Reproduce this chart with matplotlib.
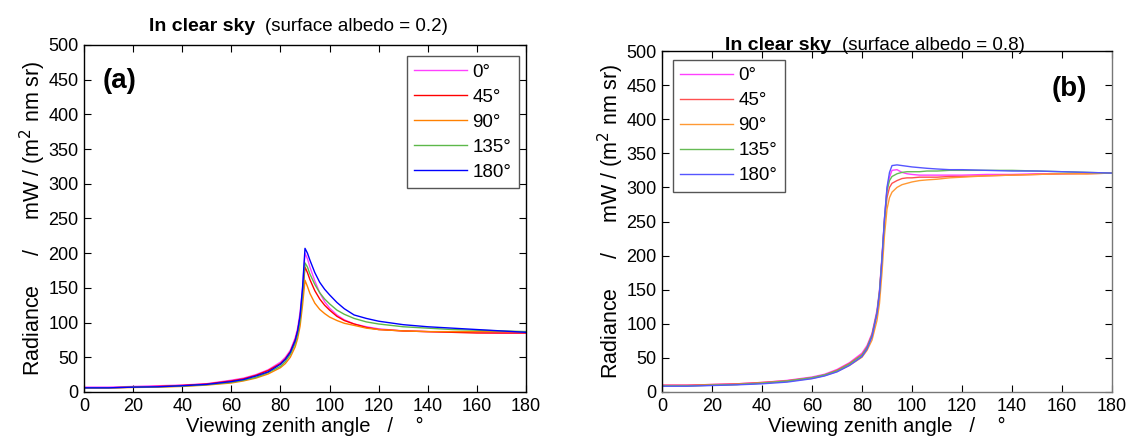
import numpy as np
import matplotlib
matplotlib.use('Agg')
import matplotlib.pyplot as plt

plt.rcParams['font.family'] = ['Liberation Sans', 'DejaVu Sans']

# viewing zenith angle (deg)
ang = [0, 10, 20, 30, 40, 50, 60, 65, 70, 75, 80, 82, 84, 86, 87, 88, 89, 90, 91, 92,
       94, 96, 98, 100, 103, 106, 110, 115, 120, 130, 140, 150, 160, 170, 180]

# (a) surface albedo = 0.2
a_0 = [7, 7, 8, 9, 10, 12, 17, 20, 25, 32, 43, 50, 60, 78, 92, 115, 150, 200, 192, 180,
       160, 143, 130, 121, 111, 104, 98, 94, 91, 88, 87, 86, 86, 85, 85]
a_45 = [6, 6, 7, 8, 9.5, 11.5, 16, 19, 24, 31, 41, 48, 58, 75, 88, 108, 140, 180, 172, 162,
        146, 134, 125, 118, 109, 103, 98, 93, 90, 88, 87, 86, 85, 85, 85]
a_90 = [6, 6, 6.5, 7, 8, 10, 13, 16, 20, 26, 35, 41, 50, 65, 77, 95, 125, 161, 152, 142,
        128, 119, 113, 108, 103, 99, 96, 92, 90, 88, 87, 87, 87, 87, 87]
a_135 = [6, 6, 7, 7.5, 8.5, 10.5, 14, 17, 21, 28, 37, 44, 54, 70, 83, 103, 140, 186, 180, 170,
         155, 143, 134, 127, 118, 112, 106, 101, 98, 94, 92, 90, 89, 88, 87]
a_180 = [6, 6, 7, 7.5, 9, 11, 15, 18, 23, 29, 40, 47, 57, 74, 88, 110, 150, 207, 200, 190,
         172, 158, 148, 140, 129, 120, 111, 106, 102, 97, 94, 92, 90, 88, 86]

# (b) surface albedo = 0.8
b_0 = [10, 10, 11, 12, 14, 17, 22, 26, 33, 43, 57, 68, 86, 120, 150, 200, 255, 298, 315, 325,
       326, 322, 320, 319, 318, 318, 318, 318, 318, 319, 319, 320, 320, 321, 321]
b_45 = [10, 10, 11, 12, 14, 16.5, 21, 25, 32, 42, 55, 66, 84, 116, 146, 195, 250, 285, 300, 306,
        310, 313, 314, 314, 315, 315, 315, 316, 316, 317, 318, 319, 320, 320, 321]
b_90 = [9, 9, 10, 11, 13, 15.5, 20, 24, 30, 39, 51, 61, 76, 105, 130, 175, 230, 268, 285, 293,
        300, 304, 306, 308, 310, 311, 312, 314, 315, 317, 318, 319, 320, 320, 321]
b_135 = [9, 9, 10, 11, 13, 16, 21, 25, 31, 41, 54, 65, 83, 117, 147, 197, 253, 295, 310, 316,
         320, 322, 323, 323, 323, 324, 324, 325, 325, 325, 325, 324, 323, 322, 321]
b_180 = [8.5, 8.5, 9.5, 10.5, 12, 14.5, 19.5, 23.5, 29.5, 39, 52, 63, 81, 115, 145, 195, 255, 300, 322, 332,
         333, 332, 331, 330, 329, 328, 327, 326, 326, 325, 324, 324, 323, 322, 321]

labels = ['0°', '45°', '90°', '135°', '180°']
colors_a = ['#ff40ff', '#ff0000', '#ff8000', '#5cb84a', '#0000ff']
colors_b = ['#ff40ff', '#ff5050', '#ff9933', '#66bb55', '#5555ff']

fig = plt.figure(figsize=(11.30, 4.43), dpi=100)
W, H = 1130, 443
ax1 = fig.add_axes([84 / W, 1 - 392 / H, (526 - 84) / W, (392 - 45) / H])
ax2 = fig.add_axes([662 / W, 1 - 392 / H, (1112 - 662) / W, (392 - 51) / H])


def style(ax):
    ax.set_xlim(0, 180)
    ax.set_ylim(0, 500)
    ax.set_xticks(np.arange(0, 181, 20))
    ax.set_yticks(np.arange(0, 501, 50))
    ax.tick_params(direction='in', top=True, right=True, length=5, width=0.8,
                   labelsize=13, pad=4)
    ax.set_xlabel('Viewing zenith angle   /    °', fontsize=14.5, labelpad=2)
    ax.set_ylabel('Radiance     /     mW / (m$^2$ nm sr)', fontsize=15.5, labelpad=0)
    for s in ax.spines.values():
        s.set_linewidth(1)


for ys, c, l in zip([a_0, a_45, a_90, a_135, a_180], colors_a, labels):
    ax1.plot(ang, ys, color=c, lw=1, label=l)
for ys, c, l in zip([b_0, b_45, b_90, b_135, b_180], colors_b, labels):
    ax2.plot(ang, ys, color=c, lw=1, label=l)

style(ax1)
style(ax2)
ax2.spines['right'].set_color('#777777')
ax2.spines['bottom'].set_color('#777777')

leg_kw = dict(fontsize=13.5, handlelength=2.8, labelspacing=0.42, borderaxespad=0,
              fancybox=False, framealpha=1, edgecolor='#555555', borderpad=0.4,
              handletextpad=0.3)
l1 = ax1.legend(loc='upper right', bbox_to_anchor=(0.984, 0.968), **leg_kw)
l2 = ax2.legend(loc='upper left', bbox_to_anchor=(0.024, 0.974), **leg_kw)
for lg in (l1, l2):
    lg.get_frame().set_linewidth(1)

ax1.text(0.043, 0.895, '(a)', transform=ax1.transAxes, fontsize=20, fontweight='bold',
         va='center', ha='left')
ax2.text(0.944, 0.89, '(b)', transform=ax2.transAxes, fontsize=20, fontweight='bold',
         va='center', ha='right')

# titles: bold part + normal part
fig.text(149 / W, 1 - 31 / H, 'In clear sky', fontsize=14, fontweight='bold', va='baseline')
fig.text(265 / W, 1 - 31 / H, '(surface albedo = 0.2)', fontsize=13.5, va='baseline')
fig.text(725 / W, 1 - 50 / H, 'In clear sky', fontsize=14, fontweight='bold', va='baseline')
fig.text(842 / W, 1 - 50 / H, '(surface albedo = 0.8)', fontsize=13.5, va='baseline')

fig.savefig('out.png', dpi=100)
